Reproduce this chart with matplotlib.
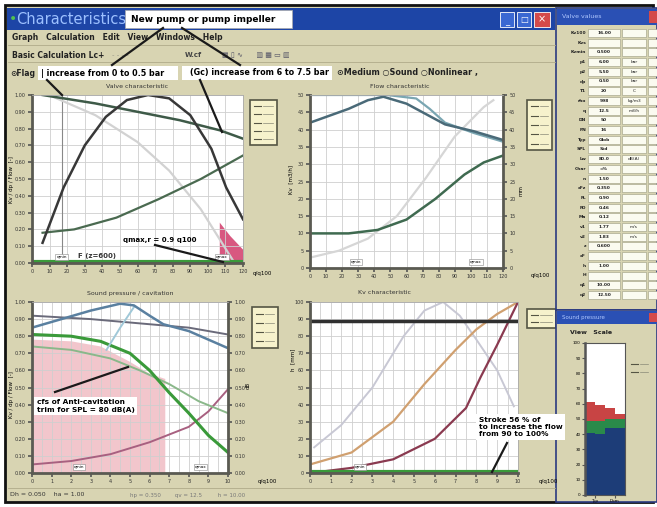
import matplotlib.pyplot as plt
from matplotlib.patches import Rectangle
import numpy as np

W, H = 657, 507

# ---- chart data (axis units: x 0..1, y 0..1 of each plot frame) ----
p1_a_x = [0.05, 0.3, 0.5, 0.7, 0.89, 1.0]
p1_a_y = [1.0, 0.95, 0.9, 0.85, 0.79, 0.74]
p1_b_x = [0.05, 0.15, 0.25, 0.35, 0.45, 0.55, 0.65, 0.75, 0.85, 0.92, 1.0]
p1_b_y = [0.12, 0.45, 0.7, 0.87, 0.97, 1.0, 0.98, 0.88, 0.68, 0.45, 0.26]
p1_c_x = [0.08, 0.3, 0.5, 0.65, 0.8, 0.9, 0.95]
p1_c_y = [1.0, 0.88, 0.72, 0.55, 0.32, 0.12, 0.02]
p1_d_x = [0.05, 0.2, 0.4, 0.6, 0.8, 1.0]
p1_d_y = [0.18, 0.2, 0.27, 0.38, 0.5, 0.64]
p1_pink_x = [0.89, 0.89, 0.94, 1.0, 1.0]
p1_pink_y = [0.0, 0.24, 0.16, 0.08, 0.0]

p2_a_x = [0, 0.1, 0.2, 0.3, 0.38, 0.5, 0.6, 0.7, 0.85, 1.0]
p2_a_y = [0.84, 0.88, 0.92, 0.97, 0.99, 0.95, 0.89, 0.83, 0.79, 0.74]
p2_b_x = [0, 0.2, 0.4, 0.55, 0.62, 0.7, 0.85, 1.0]
p2_b_y = [1.0, 1.0, 1.0, 0.98, 0.92, 0.84, 0.78, 0.73]
p2_c_x = [0, 0.15, 0.3, 0.45, 0.6, 0.75, 0.9, 0.95]
p2_c_y = [0.06, 0.1, 0.17, 0.3, 0.52, 0.76, 0.93, 0.97]
p2_d_x = [0, 0.2, 0.35, 0.5, 0.65, 0.8, 0.9, 1.0]
p2_d_y = [0.2, 0.2, 0.22, 0.28, 0.4, 0.54, 0.61, 0.65]

p3_pink_x = [0, 0.2, 0.35, 0.5, 0.6, 0.68, 0.68, 0]
p3_pink_y = [0.78, 0.77, 0.74, 0.65, 0.58, 0.55, 0.0, 0.0]
p3_a_x = [0, 0.15, 0.3, 0.45, 0.52, 0.6, 0.67, 0.8, 0.9, 1.0]
p3_a_y = [0.85, 0.9, 0.95, 0.99, 0.98, 0.92, 0.87, 0.83, 0.78, 0.73]
p3_b_x = [0, 0.3, 0.6, 0.8, 1.0]
p3_b_y = [0.92, 0.9, 0.87, 0.85, 0.81]
p3_c_x = [0.38, 0.45, 0.52]
p3_c_y = [0.72, 0.85, 0.97]
p3_d_x = [0, 0.2, 0.35, 0.5, 0.6, 0.7, 0.8, 0.9, 1.0]
p3_d_y = [0.81, 0.8, 0.77, 0.7, 0.6, 0.47, 0.35, 0.22, 0.12]
p3_e_x = [0, 0.2, 0.4, 0.55, 0.7, 0.85, 1.0]
p3_e_y = [0.74, 0.72, 0.67, 0.6, 0.52, 0.42, 0.35]
p3_f_x = [0, 0.2, 0.4, 0.6, 0.8, 0.9, 1.0]
p3_f_y = [0.05, 0.07, 0.11, 0.18, 0.27, 0.36, 0.49]

p4_h_y = 0.89
p4_a_x = [0.02, 0.15, 0.3, 0.45, 0.55, 0.64, 0.72, 0.8, 0.9, 0.98]
p4_a_y = [0.15, 0.28, 0.5, 0.8, 0.95, 1.0, 0.92, 0.78, 0.6, 0.39]
p4_b_x = [0, 0.2, 0.4, 0.55, 0.7, 0.8, 0.9, 1.0]
p4_b_y = [0.05, 0.12, 0.3, 0.52, 0.72, 0.84, 0.93, 1.0]
p4_c_x = [0, 0.2, 0.4, 0.6, 0.75, 0.82, 0.9, 1.0]
p4_c_y = [0.0, 0.03, 0.08, 0.2, 0.38, 0.56, 0.75, 1.0]

bar_blue = [41, 40, 44, 44]
bar_green = [8, 9, 6, 6]
bar_red = [12, 10, 7, 3]

x_labels_top = ['0', '10', '20', '30', '40', '50', '60', '70', '80', '90', '100', '110', '120']
x_labels_bot = ['0', '1', '2', '3', '4', '5', '6', '7', '8', '9', '10']
y_labels_1 = ['0.00', '0.10', '0.20', '0.30', '0.40', '0.50', '0.60', '0.70', '0.80', '0.90', '1.00']
y_labels_2 = ['0', '5', '10', '15', '20', '25', '30', '35', '40', '45', '50']
y_labels_4 = ['0', '10', '20', '30', '40', '50', '60', '70', '80', '90', '100']

table_labels = ['Kv100', 'Kvs', 'Kvmin', 'p1', 'p2', 'dp', 'T1', 'rho', 'q', 'DN', 'PN', 'Typ',
                'SPL', 'Lw', 'Char', 'n', 'xFz', 'FL', 'FD', 'Ma', 'v1', 'v2', 'z', 'xF', 'h', 'H',
                'q1', 'q2']
table_values = ['16.00', '', '0.500', '6.00', '5.50', '0.50', '20', '998', '12.5', '50', '16',
                'Glob', 'Std', '80.0', '=%', '1.50', '0.350', '0.90', '0.46', '0.12', '1.77', '1.83',
                '0.600', '', '1.00', '', '10.00', '12.50']
table_units = ['', '', '', 'bar', 'bar', 'bar', 'C', 'kg/m3', 'm3/h', '', '', '', '', 'dB(A)', '',
               '', '', '', '', '', 'm/s', 'm/s', '', '', '', '', '', '']

BG = '#d8d4b2'
fig = plt.figure(figsize=(W / 100, H / 100), dpi=100)
fig.patch.set_facecolor('white')


def px_rect(x0, y0, x1, y1):
    return [x0 / W, 1 - y1 / H, (x1 - x0) / W, (y1 - y0) / H]


# ---- window frame ----
ui = fig.add_axes([0, 0, 1, 1])
ui.set_xlim(0, W)
ui.set_ylim(H, 0)
ui.axis('off')
ui.add_patch(Rectangle((5, 5), 648, 497, facecolor=BG, edgecolor='#111111', lw=2))
ui.add_patch(Rectangle((7, 8), 548, 22, facecolor='#1d45a6', edgecolor='none'))
ui.text(9, 19, '•', color='#50c050', fontsize=10, va='center')
ui.text(16, 19, 'Characteristics', color='#9cc0ff', fontsize=10.5, va='center')
ui.add_patch(Rectangle((125, 10), 167, 18, facecolor='white', edgecolor='#aaaaaa', lw=0.5))
ui.text(131, 19, 'New pump or pump impeller', fontsize=6.5, fontweight='bold', va='center')
ui.add_patch(Rectangle((500, 12), 14, 15, facecolor='#3a68d2', edgecolor='white', lw=0.6))
ui.add_patch(Rectangle((517, 12), 14, 15, facecolor='#3a68d2', edgecolor='white', lw=0.6))
ui.add_patch(Rectangle((534, 12), 16, 15, facecolor='#d44a4a', edgecolor='white', lw=0.6))
ui.text(507, 22, '_', color='white', fontsize=6, ha='center', va='center')
ui.text(524, 19.5, '□', color='white', fontsize=6, ha='center', va='center')
ui.text(542, 19.5, '×', color='white', fontsize=7, ha='center', va='center')

ui.text(12, 38, 'Graph   Calculation   Edit   View   Windows   Help', fontsize=5.5,
        fontweight='bold', va='center', color='#222222')
ui.plot([8, 555], [45, 45], color='#b0ab8a', lw=0.6)
ui.text(12, 55, 'Basic Calculation Lc+', fontsize=5.5, fontweight='bold', va='center', color='#222222')
ui.text(112, 55, '- - - -', fontsize=5, va='center', color='#9a9a8a')
ui.text(185, 55, 'W.cf', fontsize=5, fontweight='bold', va='center', color='#444444')
ui.text(222, 55, '▦ ▯ ∿      ▥ ▦ ▭ ▥', fontsize=5, va='center', color='#555566')
ui.plot([8, 555], [62, 62], color='#b0ab8a', lw=0.6)
ui.text(10, 73, '⊙Flag', fontsize=5.5, fontweight='bold', va='center', color='#222222')
ui.add_patch(Rectangle((38, 66), 140, 14, facecolor='white', edgecolor='none'))
ui.text(41, 73, '| increase from 0 to 0.5 bar', fontsize=5.8, fontweight='bold', va='center')
ui.add_patch(Rectangle((182, 66), 150, 14, facecolor='white', edgecolor='none'))
ui.text(190, 73, '(Gc) increase from 6 to 7.5 bar', fontsize=5.8, fontweight='bold', va='center')
ui.text(337, 73, '⊙Medium ○Sound ○Nonlinear ,', fontsize=5.8, fontweight='bold', va='center',
        color='#222222')

ui.plot([8, 555], [488, 488], color='#b0ab8a', lw=0.6)
ui.text(10, 495, 'Dh = 0.050    ha = 1.00', fontsize=4.5, va='center', color='#333333')
ui.text(130, 496, 'hp = 0.350        qv = 12.5         h = 10.00', fontsize=4, va='center',
        color='#777777')

# subplot titles and axis names
ui.text(137, 87, 'Valve characteristic', fontsize=4.5, ha='center', va='center', color='#333333')
ui.text(400, 87, 'Flow characteristic', fontsize=4.5, ha='center', va='center', color='#333333')
ui.text(130, 293, 'Sound pressure / cavitation', fontsize=4.5, ha='center', va='center', color='#333333')
ui.text(385, 293, 'Kv characteristic', fontsize=4.5, ha='center', va='center', color='#333333')
ui.text(12, 180, 'Kv / dp / Flow  [-]', fontsize=4, rotation=90, ha='center', va='center')
ui.text(12, 395, 'Kv / dp / Flow  [-]', fontsize=4, rotation=90, ha='center', va='center')
ui.text(291, 180, 'Kv  [m3/h]', fontsize=4, rotation=90, ha='center', va='center')
ui.text(293, 360, 'h  [mm]', fontsize=4, rotation=90, ha='center', va='center')
ui.text(521, 190, 'mm', fontsize=4, rotation=90, ha='center', va='center')
ui.text(248.5, 385, 'dB', fontsize=4, rotation=90, ha='center', va='center')
ui.text(262, 273, 'q/q100', fontsize=4, ha='center', va='center')
ui.text(540, 276, 'q/q100', fontsize=4, ha='center', va='center')
ui.text(267, 482, 'q/q100', fontsize=4, ha='center', va='center')
ui.text(548, 482, 'q/q100', fontsize=4, ha='center', va='center')

# legend boxes
for (x0, y0, x1, y1) in [(250, 100, 277, 145), (527, 100, 552, 150), (252, 307, 278, 348),
                         (527, 309, 556, 328), (627, 358, 652, 378)]:
    ui.add_patch(Rectangle((x0, y0), x1 - x0, y1 - y0, facecolor='#f6f2cc', edgecolor='#555544', lw=1.2))
    n = max(2, int((y1 - y0) / 9))
    for k in range(n):
        yy = y0 + (k + 0.7) * (y1 - y0) / (n + 0.4)
        ui.plot([x0 + 4, x0 + 11], [yy, yy], color='#555544', lw=0.8)
        ui.plot([x0 + 13, x1 - 4], [yy, yy], color='#888877', lw=0.5)

# ---- right side panels ----
ui.add_patch(Rectangle((556, 8), 101, 302, facecolor=BG, edgecolor='#2a3a80', lw=1.2))
ui.add_patch(Rectangle((557, 9), 100, 16, facecolor='#2a50b4', edgecolor='none'))
ui.text(562, 17, 'Valve values', fontsize=4.5, color='#b0c8ff', va='center')
ui.add_patch(Rectangle((649, 11), 8, 12, facecolor='#d44a4a', edgecolor='none'))
for i, (lab, val, unit) in enumerate(zip(table_labels, table_values, table_units)):
    yy = 33 + i * 9.7
    ui.add_patch(Rectangle((588, yy - 4), 32, 8, facecolor='#fbfbf0', edgecolor='#9a9a80', lw=0.4))
    ui.add_patch(Rectangle((622, yy - 4), 24, 8, facecolor='#fbfbf0', edgecolor='#9a9a80', lw=0.4))
    ui.add_patch(Rectangle((648, yy - 4), 10, 8, facecolor='#fbfbf0', edgecolor='#9a9a80', lw=0.4))
    ui.text(586, yy, lab, fontsize=3.2, ha='right', va='center', color='#222222', fontweight='bold')
    ui.text(604, yy, val, fontsize=3.2, ha='center', va='center', color='#222222', fontweight='bold')
    ui.text(634, yy, unit, fontsize=3.2, ha='center', va='center', color='#222222')

ui.add_patch(Rectangle((556, 310), 101, 192, facecolor=BG, edgecolor='#2a3a80', lw=1.2))
ui.add_patch(Rectangle((557, 311), 100, 13, facecolor='#2a50b4', edgecolor='none'))
ui.text(562, 317.5, 'Sound pressure', fontsize=4, color='#b0c8ff', va='center')
ui.add_patch(Rectangle((649, 313), 8, 9, facecolor='#d44a4a', edgecolor='none'))
ui.text(570, 333, 'View   Scale', fontsize=4.5, fontweight='bold', va='center', color='#222222')


# ---- plots ----
def frame(rect, right_ticks=False, xlabels=x_labels_top, ylabels=y_labels_1, minor_x=False):
    ax = fig.add_axes(px_rect(*rect))
    ax.set_facecolor('white')
    ax.set_xlim(0, 1)
    ax.set_ylim(0, 1)
    ax.set_xticks(np.linspace(0, 1, len(xlabels)))
    ax.set_xticklabels(xlabels)
    ax.set_yticks(np.linspace(0, 1, len(ylabels)))
    ax.set_yticklabels(ylabels)
    if minor_x:
        ax.set_xticks(np.linspace(0, 1, 2 * len(xlabels) - 1), minor=True)
    ax.grid(True, which='both', color='#cfcfcf', lw=0.6)
    ax.tick_params(labelsize=3.5, length=3, width=1.2, color='#555555', labelcolor='#333333', pad=1.5)
    ax.tick_params(which='minor', length=0)
    for s in ['left', 'bottom']:
        ax.spines[s].set_linewidth(2)
        ax.spines[s].set_color('#5a5a52')
    for s in ['top', 'right']:
        ax.spines[s].set_linewidth(0.6)
        ax.spines[s].set_color('#aaaaaa')
    if right_ticks:
        ax.spines['right'].set_linewidth(2)
        ax.spines['right'].set_color('#5a5a52')
        ax.tick_params(axis='y', right=True, labelright=True)
    return ax


ax1 = frame((32, 95, 243, 263))
ax1.fill(p1_pink_x, p1_pink_y, color='#d85880', lw=0)
ax1.plot([0.14, 0.14], [0, 1], color='#888888', lw=0.8)
ax1.plot(p1_c_x, p1_c_y, color='#d2d2d2', lw=1.6)
ax1.plot(p1_d_x, p1_d_y, color='#4a6a50', lw=1.6)
ax1.plot(p1_a_x, p1_a_y, color='#3e5a48', lw=1.8)
ax1.plot(p1_b_x, p1_b_y, color='#383838', lw=1.8)
ax1.plot([0, 1], [0.005, 0.005], color='#3a9a3a', lw=3)

ax2 = frame((310, 95, 503, 268), right_ticks=True, ylabels=y_labels_2)
ax2.plot(p2_c_x, p2_c_y, color='#d6d6d6', lw=1.6)
ax2.plot(p2_d_x, p2_d_y, color='#3f6a50', lw=1.8)
ax2.plot(p2_b_x, p2_b_y, color='#7aa6b2', lw=1.6)
ax2.plot(p2_a_x, p2_a_y, color='#4a6a78', lw=1.8)

ax3 = frame((32, 302, 228, 473), right_ticks=True, xlabels=x_labels_bot, minor_x=True)
ax3.fill(p3_pink_x, p3_pink_y, color='#f2c6cc', lw=0, zorder=0.5)
ax3.plot(p3_f_x, p3_f_y, color='#a86080', lw=1.4)
ax3.plot(p3_e_x, p3_e_y, color='#8ab88a', lw=1.4)
ax3.plot(p3_d_x, p3_d_y, color='#3a9a3a', lw=2.2)
ax3.plot(p3_b_x, p3_b_y, color='#6a6a7a', lw=1.4)
ax3.plot(p3_c_x, p3_c_y, color='#a0c8d8', lw=1.4)
ax3.plot(p3_a_x, p3_a_y, color='#5a80a0', lw=1.8)

ax4 = frame((310, 302, 518, 473), xlabels=x_labels_bot, ylabels=y_labels_4, minor_x=True)
ax4.plot(p4_a_x, p4_a_y, color='#c8c8d4', lw=1.4)
ax4.plot(p4_b_x, p4_b_y, color='#d0a070', lw=1.6)
ax4.plot(p4_c_x, p4_c_y, color='#8a3a50', lw=1.6)
ax4.plot([0, 1], [p4_h_y, p4_h_y], color='#303030', lw=2.5)
ax4.plot([0, 1], [0.005, 0.005], color='#3a9a3a', lw=3)

for ax, xs in [(ax1, [0.14, 0.9]), (ax2, [0.24, 0.86]), (ax3, [0.24, 0.86]), (ax4, [0.24])]:
    for xm in xs:
        ax.text(xm, 0.035, 'qmin' if xm < 0.5 else 'qmax', fontsize=3, ha='center', va='center',
                bbox=dict(boxstyle='square,pad=0.2', fc='white', ec='#888888', lw=0.4))

# ---- small bar chart ----
axb = fig.add_axes(px_rect(585, 343, 625, 495))
axb.set_facecolor('white')
pos = np.arange(len(bar_blue))
axb.bar(pos, bar_blue, width=0.95, color='#1d3d78')
axb.bar(pos, bar_green, bottom=bar_blue, width=0.95, color='#2a8a4a')
axb.bar(pos, bar_red, bottom=np.add(bar_blue, bar_green), width=0.95, color='#c84444')
axb.set_xlim(-0.5, len(bar_blue) - 0.5)
axb.set_ylim(0, 100)
axb.set_yticks(range(0, 101, 10))
axb.set_yticklabels([str(v) for v in range(0, 101, 10)])
axb.set_xticks([0.5, 2.5])
axb.set_xticklabels(['Typ', 'Dom'])
axb.tick_params(labelsize=3, length=2, pad=1, color='#555555')
for s in axb.spines.values():
    s.set_color('#555555')
    s.set_linewidth(0.8)
axb.spines['left'].set_linewidth(1.8)

# ---- overlay annotations ----
top = fig.add_axes([0, 0, 1, 1])
top.set_xlim(0, W)
top.set_ylim(H, 0)
top.axis('off')
top.patch.set_alpha(0)
for (xa, ya, xb, yb) in [(163, 28, 112, 65), (182, 28, 240, 65), (47, 80, 62, 95),
                         (200, 80, 222, 132), (55, 392, 128, 367), (507, 443, 492, 472),
                         (155, 245, 223, 262)]:
    top.plot([xa, xb], [ya, yb], color='#1a1a1a', lw=1.6)
top.text(123, 240, 'qmax,r = 0.9 q100', fontsize=5, fontweight='bold', va='center')
top.text(78, 256, 'F (z=600)', fontsize=5, fontweight='bold', va='center', color='#333333')
top.text(37, 406, 'cfs of Anti-cavitation\ntrim for SPL = 80 dB(A)', fontsize=5.3,
         fontweight='bold', va='center', linespacing=1.3,
         bbox=dict(boxstyle='square,pad=0.35', fc='white', ec='none'))
top.text(479, 427, 'Stroke 56 % of\nto increase the flow\nfrom 90 to 100%', fontsize=5.3,
         fontweight='bold', va='center', linespacing=1.25,
         bbox=dict(boxstyle='square,pad=0.35', fc='white', ec='none'))

fig.savefig('out.png', dpi=100)
